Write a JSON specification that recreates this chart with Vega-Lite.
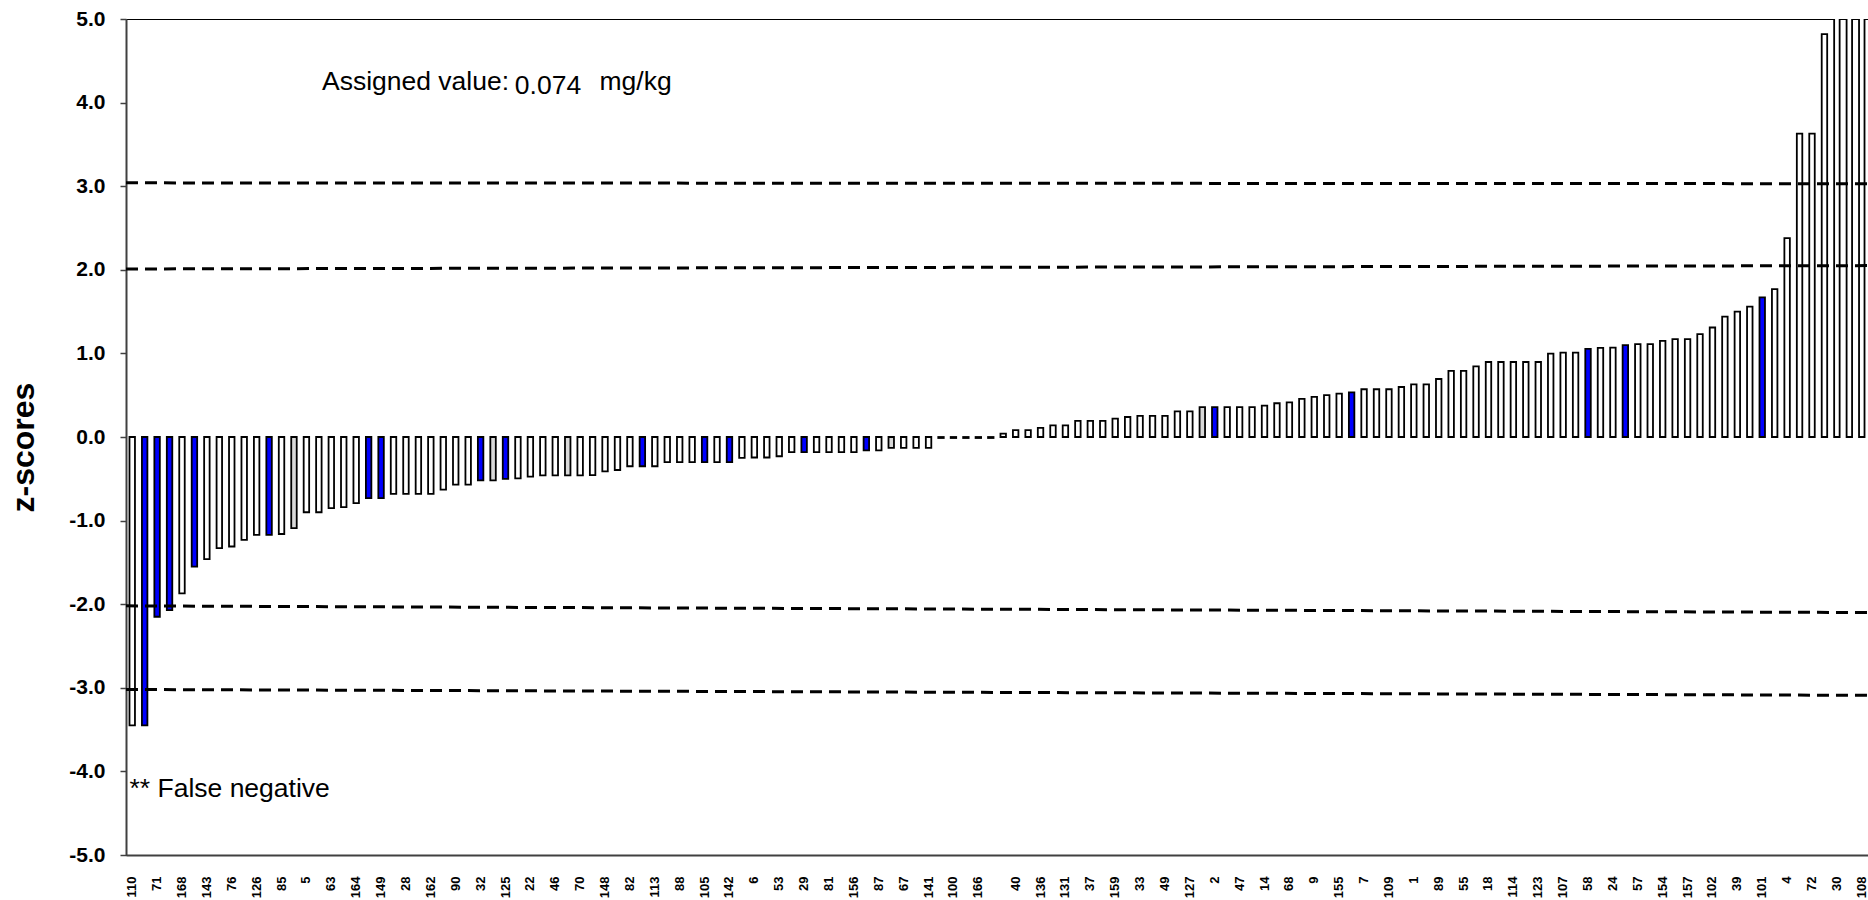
{
  "$schema": "https://vega.github.io/schema/vega-lite/v6.json",
  "width": 1742,
  "height": 836,
  "autosize": {"type": "none"},
  "padding": {"left": 126, "top": 19, "right": 0, "bottom": 45},
  "background": "white",
  "config": {"view": {"stroke": "black", "strokeWidth": 1}, "font": "Liberation Sans"},
  "data": {"values": [
    {"lab":"110","z":-3.45,"g":"A"},{"lab":"n2","z":-3.45,"g":"B"},{"lab":"71","z":-2.15,"g":"B"},{"lab":"n4","z":-2.07,"g":"B"},
    {"lab":"168","z":-1.87,"g":"A"},{"lab":"n6","z":-1.55,"g":"B"},{"lab":"143","z":-1.46,"g":"A"},{"lab":"n8","z":-1.33,"g":"A"},
    {"lab":"76","z":-1.31,"g":"A"},{"lab":"n10","z":-1.23,"g":"A"},{"lab":"126","z":-1.17,"g":"A"},{"lab":"n12","z":-1.17,"g":"B"},
    {"lab":"85","z":-1.16,"g":"A"},{"lab":"n14","z":-1.09,"g":"C"},{"lab":"5","z":-0.90,"g":"A"},{"lab":"n16","z":-0.90,"g":"A"},
    {"lab":"63","z":-0.85,"g":"A"},{"lab":"n18","z":-0.84,"g":"A"},{"lab":"164","z":-0.79,"g":"A"},{"lab":"n20","z":-0.73,"g":"B"},
    {"lab":"149","z":-0.73,"g":"B"},{"lab":"n22","z":-0.68,"g":"A"},{"lab":"28","z":-0.68,"g":"A"},{"lab":"n24","z":-0.68,"g":"A"},
    {"lab":"162","z":-0.68,"g":"A"},{"lab":"n26","z":-0.63,"g":"A"},{"lab":"90","z":-0.57,"g":"A"},{"lab":"n28","z":-0.57,"g":"A"},
    {"lab":"32","z":-0.52,"g":"B"},{"lab":"n30","z":-0.52,"g":"C"},{"lab":"125","z":-0.50,"g":"B"},{"lab":"n32","z":-0.495,"g":"A"},
    {"lab":"22","z":-0.475,"g":"A"},{"lab":"n34","z":-0.46,"g":"A"},{"lab":"46","z":-0.46,"g":"A"},{"lab":"n36","z":-0.46,"g":"C"},
    {"lab":"70","z":-0.46,"g":"A"},{"lab":"n38","z":-0.455,"g":"A"},{"lab":"148","z":-0.41,"g":"A"},{"lab":"n40","z":-0.395,"g":"A"},
    {"lab":"82","z":-0.35,"g":"A"},{"lab":"n42","z":-0.35,"g":"B"},{"lab":"113","z":-0.35,"g":"A"},{"lab":"n44","z":-0.30,"g":"A"},
    {"lab":"88","z":-0.30,"g":"A"},{"lab":"n46","z":-0.30,"g":"A"},{"lab":"105","z":-0.30,"g":"B"},{"lab":"n48","z":-0.30,"g":"A"},
    {"lab":"142","z":-0.30,"g":"B"},{"lab":"n50","z":-0.25,"g":"A"},{"lab":"6","z":-0.245,"g":"A"},{"lab":"n52","z":-0.245,"g":"A"},
    {"lab":"53","z":-0.23,"g":"A"},{"lab":"n54","z":-0.18,"g":"A"},{"lab":"29","z":-0.18,"g":"B"},{"lab":"n56","z":-0.18,"g":"A"},
    {"lab":"81","z":-0.18,"g":"A"},{"lab":"n58","z":-0.18,"g":"A"},{"lab":"156","z":-0.18,"g":"A"},{"lab":"n60","z":-0.16,"g":"B"},
    {"lab":"87","z":-0.16,"g":"A"},{"lab":"n62","z":-0.13,"g":"C"},{"lab":"67","z":-0.13,"g":"A"},{"lab":"n64","z":-0.13,"g":"A"},
    {"lab":"141","z":-0.13,"g":"A"},{"lab":"n66","z":-0.012,"g":"A"},{"lab":"100","z":-0.012,"g":"A"},{"lab":"n68","z":-0.012,"g":"A"},
    {"lab":"166","z":-0.012,"g":"A"},{"lab":"n70","z":-0.012,"g":"A"},{"lab":"45","z":null,"g":"A"},{"lab":"n72","z":0.04,"g":"A"},
    {"lab":"40","z":0.083,"g":"A"},{"lab":"n74","z":0.083,"g":"A"},{"lab":"136","z":0.11,"g":"A"},{"lab":"n76","z":0.138,"g":"A"},
    {"lab":"131","z":0.138,"g":"A"},{"lab":"n78","z":0.193,"g":"A"},{"lab":"37","z":0.193,"g":"A"},{"lab":"n80","z":0.193,"g":"A"},
    {"lab":"159","z":0.22,"g":"A"},{"lab":"n82","z":0.239,"g":"A"},{"lab":"33","z":0.252,"g":"A"},{"lab":"n84","z":0.252,"g":"A"},
    {"lab":"49","z":0.252,"g":"A"},{"lab":"n86","z":0.307,"g":"A"},{"lab":"127","z":0.307,"g":"A"},{"lab":"n88","z":0.358,"g":"C"},
    {"lab":"2","z":0.358,"g":"B"},{"lab":"n90","z":0.358,"g":"A"},{"lab":"47","z":0.358,"g":"A"},{"lab":"n92","z":0.358,"g":"A"},
    {"lab":"14","z":0.376,"g":"A"},{"lab":"n94","z":0.404,"g":"A"},{"lab":"68","z":0.413,"g":"A"},{"lab":"n96","z":0.456,"g":"A"},
    {"lab":"9","z":0.48,"g":"A"},{"lab":"n98","z":0.50,"g":"A"},{"lab":"155","z":0.518,"g":"A"},{"lab":"n100","z":0.534,"g":"B"},
    {"lab":"7","z":0.571,"g":"A"},{"lab":"n102","z":0.571,"g":"A"},{"lab":"109","z":0.571,"g":"A"},{"lab":"n104","z":0.598,"g":"A"},
    {"lab":"1","z":0.63,"g":"A"},{"lab":"n106","z":0.63,"g":"A"},{"lab":"89","z":0.694,"g":"A"},{"lab":"n108","z":0.79,"g":"A"},
    {"lab":"55","z":0.79,"g":"A"},{"lab":"n110","z":0.844,"g":"A"},{"lab":"18","z":0.897,"g":"A"},{"lab":"n112","z":0.897,"g":"A"},
    {"lab":"114","z":0.897,"g":"A"},{"lab":"n114","z":0.897,"g":"A"},{"lab":"123","z":0.897,"g":"A"},{"lab":"n116","z":0.998,"g":"A"},
    {"lab":"107","z":1.009,"g":"A"},{"lab":"n118","z":1.009,"g":"A"},{"lab":"58","z":1.055,"g":"B"},{"lab":"n120","z":1.065,"g":"A"},
    {"lab":"24","z":1.07,"g":"A"},{"lab":"n122","z":1.10,"g":"B"},{"lab":"57","z":1.11,"g":"A"},{"lab":"n124","z":1.11,"g":"A"},
    {"lab":"154","z":1.15,"g":"A"},{"lab":"n126","z":1.17,"g":"A"},{"lab":"157","z":1.17,"g":"A"},{"lab":"n128","z":1.23,"g":"A"},
    {"lab":"102","z":1.31,"g":"A"},{"lab":"n130","z":1.44,"g":"A"},{"lab":"39","z":1.50,"g":"A"},{"lab":"n132","z":1.56,"g":"A"},
    {"lab":"101","z":1.67,"g":"B"},{"lab":"n134","z":1.77,"g":"A"},{"lab":"4","z":2.38,"g":"A"},{"lab":"n136","z":3.63,"g":"A"},
    {"lab":"72","z":3.63,"g":"A"},{"lab":"n138","z":4.82,"g":"A"},{"lab":"30","z":6.0,"g":"A"},{"lab":"n140","z":6.0,"g":"A"},
    {"lab":"108","z":6.0,"g":"A"}
  ]},
  "layer": [
    {
      "mark": {"type": "bar", "stroke": "black", "strokeWidth": 1.8, "clip": true, "invalid": "break-paths-show-domains"},
      "encoding": {
        "x": {
          "field": "lab", "type": "nominal", "sort": null,
          "scale": {"paddingInner": 0.56, "paddingOuter": 0.28},
          "axis": {
            "title": null,
            "labelExpr": "indexof(datum.value, 'n') === 0 ? '' : datum.value",
            "labelAngle": 270, "labelAlign": "right", "labelBaseline": "middle",
            "labelFont": "Liberation Sans", "labelFontSize": 13, "labelFontWeight": "bold", "labelColor": "black",
            "labelPadding": 21, "ticks": false, "domainColor": "#404040", "domainWidth": 2,
            "labelOverlap": false, "grid": false
          }
        },
        "y": {
          "field": "z", "type": "quantitative",
          "scale": {"domain": [-5, 5], "nice": false},
          "axis": {
            "title": "z-scores",
            "values": [-5, -4, -3, -2, -1, 0, 1, 2, 3, 4, 5],
            "labelExpr": "(datum.value < 0 ? '-' : '') + format(abs(datum.value), '.1f')",
            "grid": false, "domainColor": "#404040", "domainWidth": 2,
            "tickColor": "#404040", "tickWidth": 1.5, "tickSize": 6,
            "labelFont": "Liberation Sans", "labelFontSize": 21, "labelFontWeight": "bold", "labelColor": "black",
            "labelPadding": 15,
            "titleFont": "Liberation Sans", "titleFontSize": 32, "titleFontWeight": "bold", "titleColor": "black",
            "titleAngle": 270, "titleAlign": "center", "titleBaseline": "alphabetic",
            "titleX": -93, "titleY": 428
          }
        },
        "fill": {
          "field": "g", "type": "nominal",
          "scale": {"domain": ["A", "B", "C"], "range": ["#ffffff", "#0000ff", "#d9d9d9"]},
          "legend": null
        }
      }
    },
    {
      "data": {"values": [
        {"ya": 3.04, "yb": 3.03},
        {"ya": 2.01, "yb": 2.05},
        {"ya": -2.02, "yb": -2.10},
        {"ya": -3.02, "yb": -3.09}
      ]},
      "mark": {"type": "rule", "color": "black", "strokeWidth": 3, "strokeDash": [12, 7]},
      "encoding": {
        "x": {"datum": 0, "type": "quantitative", "scale": {"domain": [0, 1]}, "axis": null},
        "x2": {"datum": 1},
        "y": {"field": "ya", "type": "quantitative"},
        "y2": {"field": "yb"}
      }
    },
    {
      "data": {"values": [{}]},
      "mark": {"type": "text", "text": "Assigned value:", "align": "left", "baseline": "alphabetic", "font": "Liberation Sans", "fontSize": 26.5, "color": "black"},
      "encoding": {
        "x": {"datum": 0.1125, "type": "quantitative", "scale": {"domain": [0, 1]}, "axis": null},
        "y": {"datum": 4.151, "type": "quantitative"}
      }
    },
    {
      "data": {"values": [{}]},
      "mark": {"type": "text", "text": "0.074", "align": "left", "baseline": "alphabetic", "font": "Liberation Sans", "fontSize": 26.5, "color": "black"},
      "encoding": {
        "x": {"datum": 0.2232, "type": "quantitative", "scale": {"domain": [0, 1]}, "axis": null},
        "y": {"datum": 4.103, "type": "quantitative"}
      }
    },
    {
      "data": {"values": [{}]},
      "mark": {"type": "text", "text": "mg/kg", "align": "left", "baseline": "alphabetic", "font": "Liberation Sans", "fontSize": 26.5, "color": "black"},
      "encoding": {
        "x": {"datum": 0.2718, "type": "quantitative", "scale": {"domain": [0, 1]}, "axis": null},
        "y": {"datum": 4.151, "type": "quantitative"}
      }
    },
    {
      "data": {"values": [{}]},
      "mark": {"type": "text", "text": "** False negative", "align": "left", "baseline": "alphabetic", "font": "Liberation Sans", "fontSize": 26.5, "color": "black"},
      "encoding": {
        "x": {"datum": 0.002, "type": "quantitative", "scale": {"domain": [0, 1]}, "axis": null},
        "y": {"datum": -4.303, "type": "quantitative"}
      }
    }
  ],
  "resolve": {"scale": {"x": "independent"}}
}
